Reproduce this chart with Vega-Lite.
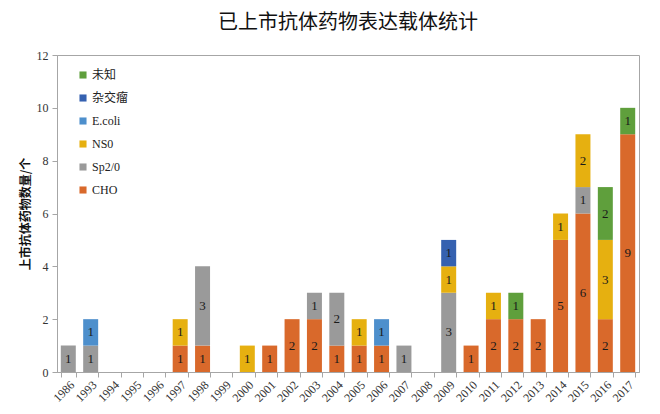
{
  "$schema": "https://vega.github.io/schema/vega-lite/v6.json",
  "autosize": "none",
  "width": 582,
  "height": 317,
  "padding": {"left": 57, "top": 55, "right": 21, "bottom": 42},
  "background": "white",
  "title": {
    "text": "已上市抗体药物表达载体统计",
    "font": "Noto Sans CJK SC",
    "fontSize": 20,
    "fontWeight": "normal",
    "color": "#111111",
    "offset": 16,
    "anchor": "middle"
  },
  "data": {
    "values": [
      {"year": "1986", "type": "Sp2/0", "n": 1},
      {"year": "1993", "type": "Sp2/0", "n": 1},
      {"year": "1993", "type": "E.coli", "n": 1},
      {"year": "1997", "type": "CHO", "n": 1},
      {"year": "1997", "type": "NS0", "n": 1},
      {"year": "1998", "type": "CHO", "n": 1},
      {"year": "1998", "type": "Sp2/0", "n": 3},
      {"year": "2000", "type": "NS0", "n": 1},
      {"year": "2001", "type": "CHO", "n": 1},
      {"year": "2002", "type": "CHO", "n": 2},
      {"year": "2003", "type": "CHO", "n": 2},
      {"year": "2003", "type": "Sp2/0", "n": 1},
      {"year": "2004", "type": "CHO", "n": 1},
      {"year": "2004", "type": "Sp2/0", "n": 2},
      {"year": "2005", "type": "CHO", "n": 1},
      {"year": "2005", "type": "NS0", "n": 1},
      {"year": "2006", "type": "CHO", "n": 1},
      {"year": "2006", "type": "E.coli", "n": 1},
      {"year": "2007", "type": "Sp2/0", "n": 1},
      {"year": "2009", "type": "Sp2/0", "n": 3},
      {"year": "2009", "type": "NS0", "n": 1},
      {"year": "2009", "type": "杂交瘤", "n": 1},
      {"year": "2010", "type": "CHO", "n": 1},
      {"year": "2011", "type": "CHO", "n": 2},
      {"year": "2011", "type": "NS0", "n": 1},
      {"year": "2012", "type": "CHO", "n": 2},
      {"year": "2012", "type": "未知", "n": 1},
      {"year": "2013", "type": "CHO", "n": 2},
      {"year": "2014", "type": "CHO", "n": 5},
      {"year": "2014", "type": "NS0", "n": 1},
      {"year": "2015", "type": "CHO", "n": 6},
      {"year": "2015", "type": "Sp2/0", "n": 1},
      {"year": "2015", "type": "NS0", "n": 2},
      {"year": "2016", "type": "CHO", "n": 2},
      {"year": "2016", "type": "NS0", "n": 3},
      {"year": "2016", "type": "未知", "n": 2},
      {"year": "2017", "type": "CHO", "n": 9},
      {"year": "2017", "type": "未知", "n": 1}
    ]
  },
  "transform": [
    {"calculate": "indexof(['CHO','Sp2/0','NS0','E.coli','杂交瘤','未知'], datum.type)", "as": "ord"},
    {"stack": "n", "groupby": ["year"], "sort": [{"field": "ord", "order": "ascending"}], "as": ["y0", "y1"]},
    {"calculate": "(datum.y0 + datum.y1) / 2", "as": "ymid"}
  ],
  "encoding": {
    "x": {
      "field": "year",
      "type": "nominal",
      "scale": {
        "domain": ["1986","1993","1994","1995","1996","1997","1998","1999","2000","2001","2002","2003","2004","2005","2006","2007","2008","2009","2010","2011","2012","2013","2014","2015","2016","2017"],
        "paddingInner": 0.33,
        "paddingOuter": 0.17
      },
      "axis": {
        "title": null,
        "labelAngle": -45,
        "labelFont": "Liberation Serif",
        "labelFontSize": 12,
        "labelColor": "#333333",
        "domainColor": "#a6a6a6",
        "tickColor": "#a6a6a6",
        "tickBand": "extent",
        "tickSize": 5,
        "labelPadding": 2
      }
    }
  },
  "layer": [
    {
      "mark": {"type": "bar"},
      "encoding": {
        "y": {
          "field": "y0",
          "type": "quantitative",
          "scale": {"domain": [0, 12], "nice": false},
          "axis": {
            "title": "上市抗体药物数量/个",
            "titleFont": "Noto Sans CJK SC",
            "titleFontSize": 12,
            "titleFontWeight": "bold",
            "titleColor": "#111111",
            "titleX": -32,
            "titleBaseline": "middle",
            "values": [0, 2, 4, 6, 8, 10, 12],
            "grid": false,
            "labelFont": "Liberation Serif",
            "labelFontSize": 12,
            "labelColor": "#333333",
            "domainColor": "#a6a6a6",
            "tickColor": "#a6a6a6",
            "tickSize": 5,
            "labelPadding": 4
          }
        },
        "y2": {"field": "y1"},
        "color": {
          "field": "type",
          "type": "nominal",
          "scale": {
            "domain": ["未知", "杂交瘤", "E.coli", "NS0", "Sp2/0", "CHO"],
            "range": ["#5f9f3c", "#3561b0", "#4d8fcc", "#e6b010", "#9a9a9a", "#d9692b"]
          },
          "legend": {
            "title": null,
            "orient": "none",
            "legendX": 20,
            "legendY": 14,
            "symbolType": "square",
            "symbolSize": 50,
            "symbolStrokeWidth": 0,
            "labelFont": "Liberation Serif, Noto Sans CJK SC",
            "labelFontSize": 12,
            "labelColor": "#222222",
            "rowPadding": 11,
            "labelOffset": 3
          }
        }
      }
    },
    {
      "mark": {"type": "text", "font": "Liberation Serif", "fontSize": 13, "color": "#1a1a1a", "baseline": "middle"},
      "encoding": {
        "y": {"field": "ymid", "type": "quantitative"},
        "text": {"field": "n", "type": "quantitative"}
      }
    }
  ],
  "config": {
    "view": {"stroke": "#a6a6a6", "strokeWidth": 1}
  }
}
